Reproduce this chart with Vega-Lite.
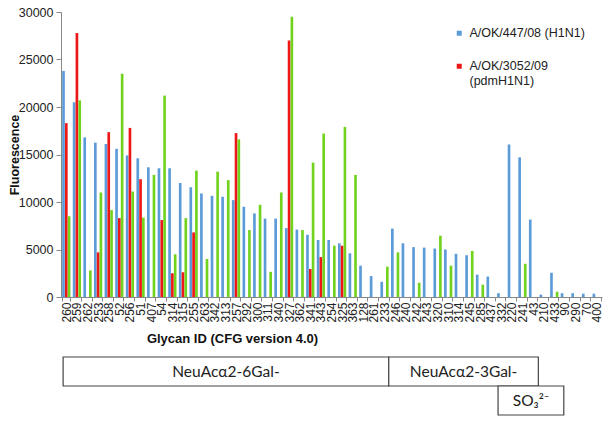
{
  "$schema": "https://vega.github.io/schema/vega-lite/v6.json",
  "padding": {"left": 8, "top": 6, "right": 4, "bottom": 4},
  "bounds": "flush",
  "spacing": 60,
  "config": {"view": {"stroke": null}, "font": "Liberation Sans"},
  "resolve": {"legend": {"color": "independent"}, "scale": {"color": "independent", "x": "independent", "y": "independent"}},
  "vconcat": [
    {
      "width": 541,
      "height": 285,
      "data": {"values": [
        {"id": "260", "s447": 23800, "s3052": 18300, "s3": 8500},
        {"id": "259", "s447": 20500, "s3052": 27800, "s3": 20700},
        {"id": "262", "s447": 16800, "s3": 2800},
        {"id": "253", "s447": 16250, "s3052": 4700, "s3": 11000},
        {"id": "258", "s447": 16100, "s3052": 17350, "s3": 9150},
        {"id": "52", "s447": 15600, "s3052": 8300, "s3": 23500},
        {"id": "256", "s447": 14900, "s3052": 17800, "s3": 11100},
        {"id": "51", "s447": 14600, "s3052": 12400, "s3": 8350},
        {"id": "407", "s447": 13650, "s3": 12850},
        {"id": "54", "s447": 13550, "s3052": 8100, "s3": 21200},
        {"id": "314", "s447": 13550, "s3052": 2500, "s3": 4500},
        {"id": "315", "s447": 12000, "s3052": 2600, "s3": 8300},
        {"id": "255", "s447": 11550, "s3052": 6800, "s3": 13300},
        {"id": "263", "s447": 10900, "s3": 4000},
        {"id": "342", "s447": 10650, "s3": 13200},
        {"id": "313", "s447": 10550, "s3": 12300},
        {"id": "257", "s447": 10200, "s3052": 17250, "s3": 16600},
        {"id": "292", "s447": 9500, "s3": 7050},
        {"id": "300", "s447": 8800, "s3": 9700},
        {"id": "311", "s447": 8250, "s3": 2650},
        {"id": "340", "s447": 8250, "s3": 11000},
        {"id": "327", "s447": 7250, "s3052": 27000, "s3": 29500},
        {"id": "362", "s447": 7100, "s3": 7050},
        {"id": "341", "s447": 6550, "s3052": 2950, "s3": 14150},
        {"id": "343", "s447": 6000, "s3052": 4200, "s3": 17200},
        {"id": "254", "s447": 6000, "s3": 5400},
        {"id": "325", "s447": 5650, "s3052": 5400, "s3": 17900},
        {"id": "363", "s447": 4600, "s3": 12850},
        {"id": "128", "s447": 3300},
        {"id": "261", "s447": 2200},
        {"id": "233", "s447": 1600, "s3": 3200},
        {"id": "246", "s447": 7200, "s3": 4700},
        {"id": "240", "s447": 5650},
        {"id": "242", "s447": 5250, "s3": 1500},
        {"id": "243", "s447": 5200},
        {"id": "320", "s447": 5100, "s3": 6450},
        {"id": "310", "s447": 5000, "s3": 3300},
        {"id": "314\u200b", "s447": 4550},
        {"id": "245", "s447": 4400, "s3": 4850},
        {"id": "285", "s447": 2350, "s3": 1300},
        {"id": "437", "s447": 2150},
        {"id": "332", "s447": 400},
        {"id": "220", "s447": 16050},
        {"id": "241", "s447": 14700, "s3": 3500},
        {"id": "43", "s447": 8150},
        {"id": "210", "s447": 250},
        {"id": "433", "s447": 2550, "s3": 550},
        {"id": "90", "s447": 400},
        {"id": "290", "s447": 400},
        {"id": "70", "s447": 350},
        {"id": "400", "s447": 350}
      ]},
      "transform": [
        {"fold": ["s447", "s3052", "s3"], "as": ["series", "value"]},
        {"filter": "isValid(datum.value)"}
      ],
      "mark": {"type": "bar"},
      "encoding": {
        "x": {
          "field": "id", "type": "nominal", "sort": null,
          "scale": {"paddingInner": 0.22, "paddingOuter": 0.11},
          "axis": {
            "title": "Glycan ID (CFG version 4.0)", "titleFontSize": 13, "titleFontWeight": "bold",
            "titleColor": "#111", "titleX": 171, "titlePadding": 10,
            "labelAngle": -90, "labelFontSize": 12, "labelColor": "#222", "labelPadding": 1,
            "tickSize": 4, "tickBand": "extent", "tickColor": "#888", "domainColor": "#888"
          }
        },
        "xOffset": {"field": "series", "type": "nominal", "scale": {"domain": ["s447", "s3052", "s3"], "paddingInner": 0.05}},
        "y": {
          "field": "value", "type": "quantitative",
          "scale": {"domain": [0, 30000], "nice": false},
          "axis": {
            "title": "Fluorescence", "titleFontSize": 12.5, "titleFontWeight": "bold", "titleColor": "#111",
            "titleX": -40, "format": "d",
            "values": [0, 5000, 10000, 15000, 20000, 25000, 30000],
            "labelFontSize": 12.5, "labelColor": "#222", "labelPadding": 3,
            "tickSize": 5, "tickColor": "#888", "domainColor": "#888", "grid": false
          }
        },
        "color": {
          "field": "series", "type": "nominal",
          "scale": {"domain": ["s447", "s3052", "s3"], "range": ["#5B9BD8", "#EE1717", "#72D31F"]},
          "legend": {
            "orient": "none", "legendX": 392, "legendY": 15, "title": null,
            "values": ["s447", "s3052"],
            "labelExpr": "datum.value == 's447' ? 'A/OK/447/08 (H1N1)' : ['A/OK/3052/09', '(pdmH1N1)']",
            "symbolType": "square", "symbolSize": 25, "symbolStrokeWidth": 0,
            "labelFontSize": 12.5, "labelColor": "#222", "labelOffset": 4, "labelLimit": 220,
            "rowPadding": 20, "padding": 0
          }
        }
      }
    },
    {
      "width": 541,
      "height": 58,
      "data": {"values": [
        {"label": "NeuAcα2-6Gal-", "start": 0.2, "end": 30.9, "row": 1},
        {"label": "NeuAcα2-3Gal-", "start": 30.9, "end": 45.0, "row": 1},
        {"label": "SO₃²⁻", "start": 41.2, "end": 47.4, "row": 0}
      ]},
      "transform": [
        {"calculate": "(datum.start + datum.end) / 2", "as": "mid"},
        {"calculate": "datum.row + 1", "as": "rowTop"},
        {"calculate": "datum.row + 0.5", "as": "rowMid"}
      ],
      "layer": [
        {
          "mark": {"type": "rect", "fill": "white", "stroke": "#444", "strokeWidth": 1.2},
          "encoding": {
            "x": {"field": "start", "type": "quantitative", "scale": {"domain": [0, 51], "nice": false, "zero": false}, "axis": null},
            "x2": {"field": "end"},
            "y": {"field": "row", "type": "quantitative", "scale": {"domain": [0, 2], "nice": false}, "axis": null},
            "y2": {"field": "rowTop"}
          }
        },
        {
          "mark": {"type": "text", "font": "Lato", "fontSize": 15.5, "color": "#222", "align": "center", "baseline": "middle"},
          "encoding": {
            "x": {"field": "mid", "type": "quantitative"},
            "y": {"field": "rowMid", "type": "quantitative"},
            "text": {"field": "label"}
          }
        }
      ]
    }
  ]
}
